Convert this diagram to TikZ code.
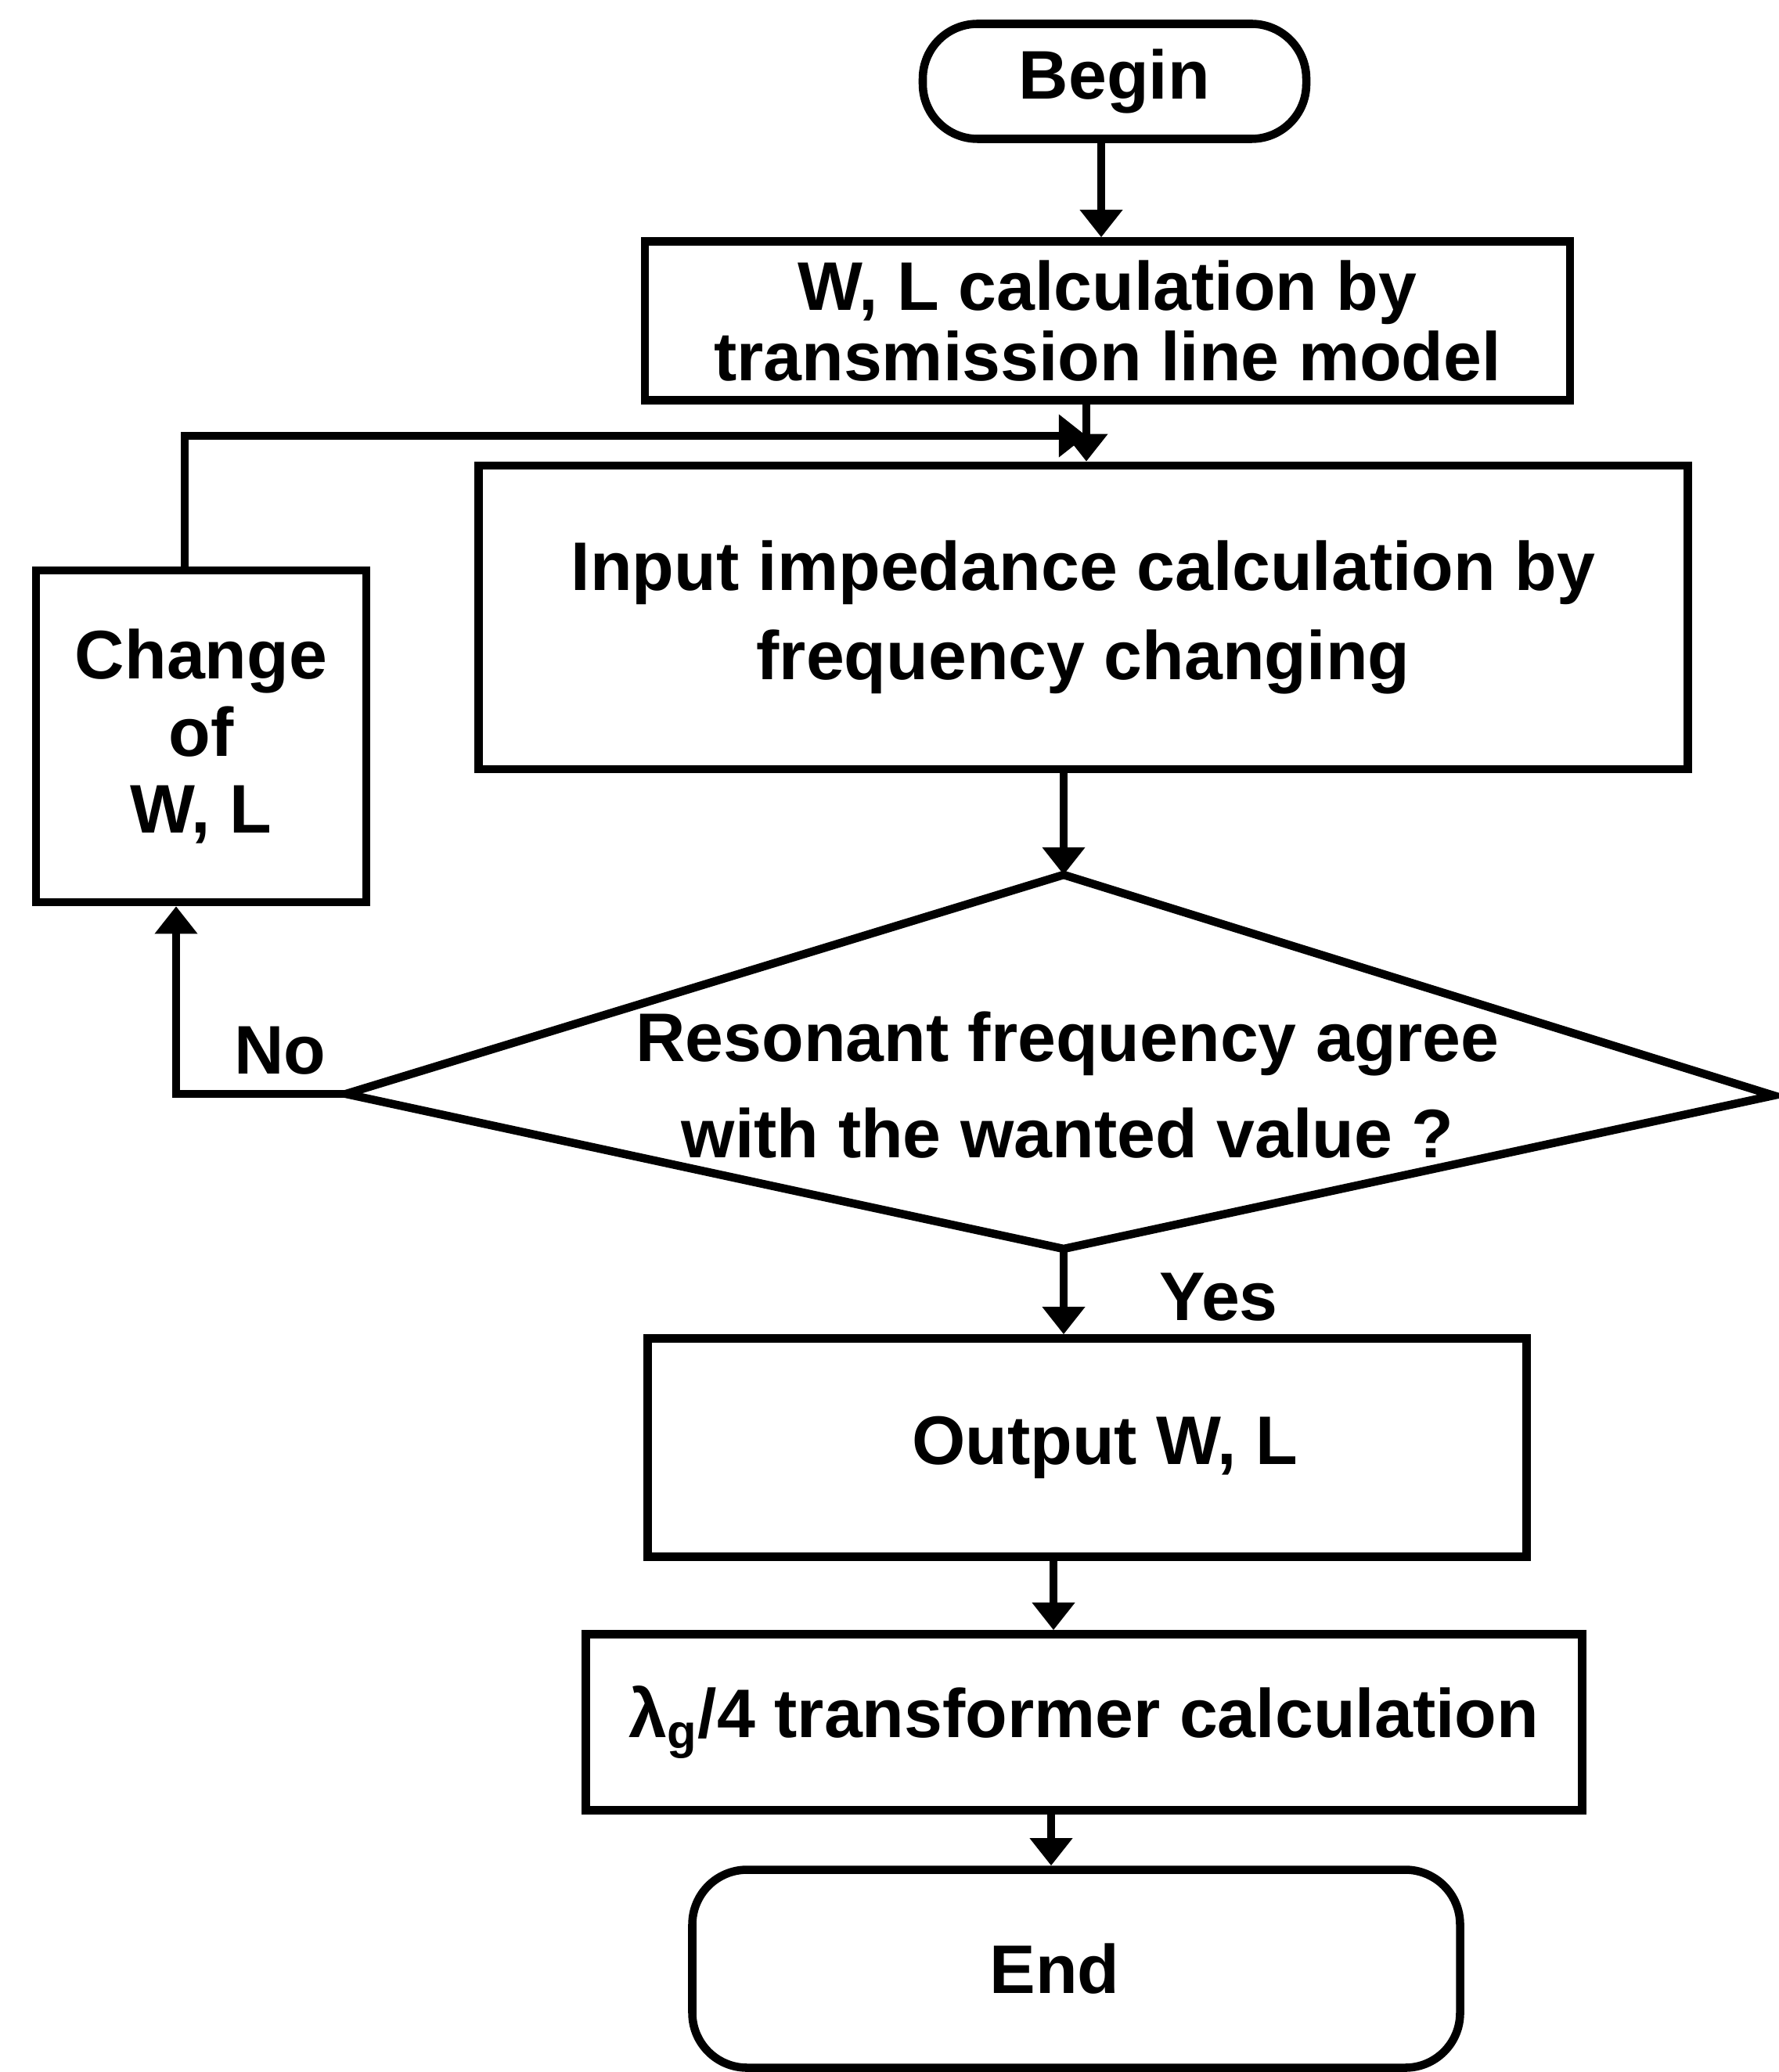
\documentclass[tikz,border=0pt]{standalone}
\usepackage{fontspec}
\setmainfont{Liberation Sans}
\usetikzlibrary{arrows.meta}

\begin{document}
\begin{tikzpicture}[font=\bfseries\fontsize{25}{28}\selectfont,
  box/.style={draw, line width=3pt, inner sep=0pt, align=center},
  arr/.style={line width=2.6pt, -{Triangle[width=15pt,length=10pt]}}]
  \useasboundingbox (0,0) rectangle (22.73,-26.48);

  % main column
  \node[box, rounded corners=0.7cm, minimum width=4.9cm, minimum height=1.47cm] (begin) at (14.24,-1.04) {Begin};
  \node[box, minimum width=11.82cm, minimum height=2.03cm, font=\bfseries\fontsize{25}{25.5}\selectfont] (calc) at (14.15,-4.10) {W, L calculation by\\transmission line model};
  \node[box, minimum width=15.45cm, minimum height=3.88cm, font=\bfseries\fontsize{25}{32.6}\selectfont] (imp) at (13.84,-7.89) {Input impedance calculation by\\frequency changing};
  \node[box, minimum width=4.22cm, minimum height=4.24cm] (chg) at (2.57,-9.41) {Change\\of\\W, L};

  % decision
  \coordinate (dtop) at (13.59,-11.18);
  \coordinate (dright) at (22.66,-14.00);
  \coordinate (dbot) at (13.59,-15.96);
  \coordinate (dleft) at (4.42,-13.98);
  \draw[line width=3pt] (dtop) -- (dright) -- (dbot) -- (dleft) -- cycle;
  \node[align=center, font=\bfseries\fontsize{25}{35}\selectfont] (ask) at (13.64,-13.87) {Resonant frequency agree\\with the wanted value ?};

  \node[box, minimum width=11.23cm, minimum height=2.79cm] (out) at (13.89,-18.50) {\hspace{0.45cm}Output W, L};
  \node[box, minimum width=12.73cm, minimum height=2.25cm] (lam) at (13.85,-22.01) {λ\textsubscript{g}/4 transformer calculation};
  \node[box, rounded corners=0.7cm, minimum width=9.81cm, minimum height=2.53cm] (fin) at (13.75,-25.16) {End\hspace{0.55cm}};

  \node (no) at (3.58,-13.43) {No};
  \node (yes) at (15.57,-16.58) {Yes};

  % connectors
  \coordinate (merge) at (13.88,-5.57);
  \draw[arr] ([xshift=-1.7mm]begin.south) -- ([xshift=-1.7mm]begin.south |- calc.north);
  \draw[arr] ([xshift=-2.7mm]calc.south) -- ([xshift=-2.7mm]calc.south |- imp.north);
  \draw[arr] ([xshift=-2.1mm]chg.north) |- (merge);
  \draw[arr] (dtop |- imp.south) -- (dtop);
  \draw[arr] (dleft) -| ([xshift=-3.2mm]chg.south);
  \draw[arr] (dbot) -- (dbot |- out.north);
  \draw[arr] ([xshift=-4.3mm]out.south) -- ([xshift=-4.3mm]out.south |- lam.north);
  \draw[arr] ([xshift=-4.2mm]lam.south) -- ([xshift=-4.2mm]lam.south |- fin.north);
\end{tikzpicture}
\end{document}
